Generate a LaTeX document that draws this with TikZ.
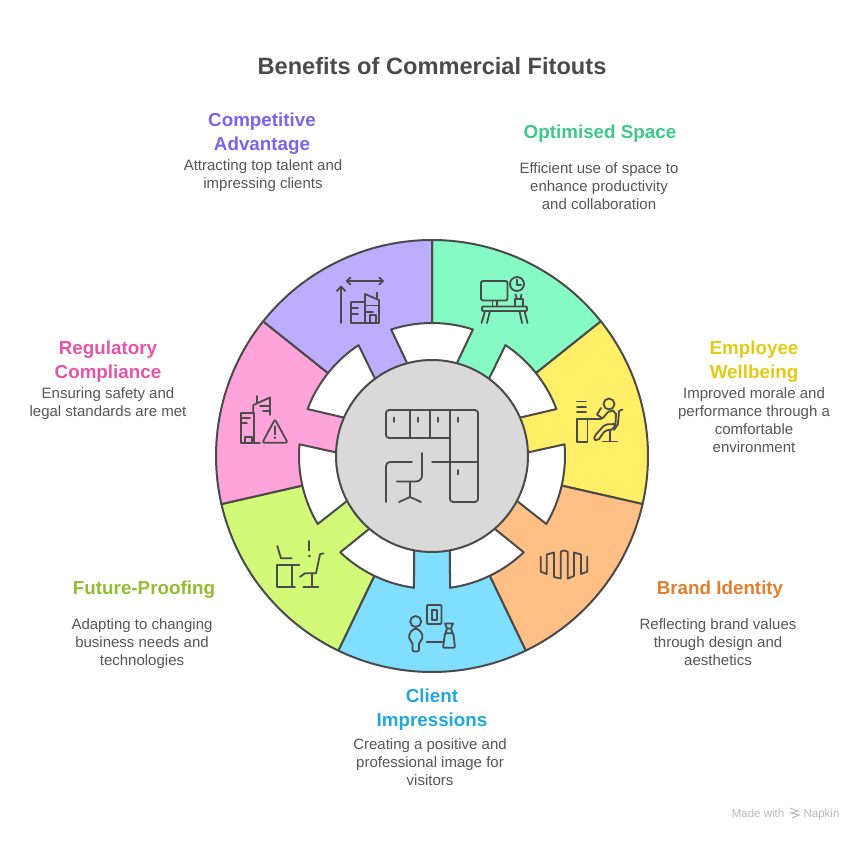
\documentclass[tikz,border=0pt]{standalone}
\usepackage{fontspec}
\setmainfont{Liberation Sans}
\usetikzlibrary{positioning}

\definecolor{inkline}{HTML}{4A4A4A}
\definecolor{bodytext}{HTML}{555555}
\definecolor{hubgray}{HTML}{D9D9D9}
\definecolor{segA}{HTML}{85FAC4}
\definecolor{segB}{HTML}{FFEE66}
\definecolor{segC}{HTML}{FFBF85}
\definecolor{segD}{HTML}{80DFFF}
\definecolor{segE}{HTML}{D2FA78}
\definecolor{segF}{HTML}{FFA3DB}
\definecolor{segG}{HTML}{BDADFF}
\definecolor{headA}{HTML}{3CC98A}
\definecolor{headB}{HTML}{E3CB14}
\definecolor{headC}{HTML}{E07F2D}
\definecolor{headD}{HTML}{1EA8DC}
\definecolor{headE}{HTML}{8FBF2F}
\definecolor{headF}{HTML}{E455A9}
\definecolor{headG}{HTML}{7C62F0}

\begin{document}
\begin{tikzpicture}[x=1pt,y=-1pt]
   \tikzstyle{ring}=[draw=inkline,line width=2pt,line join=round]
   \tikzstyle{icon}=[draw=inkline,line width=1.8pt,line join=round,line cap=round]
   \tikzstyle{head}=[font=\fontsize{18.8}{24}\selectfont\bfseries,align=center,inner sep=0pt]
   \tikzstyle{desc}=[font=\fontsize{15}{18}\selectfont,text=bodytext,align=center,inner sep=0pt]
   \tikzstyle{credit}=[font=\fontsize{11.5}{13}\selectfont,text=black!28,inner sep=0pt,anchor=base]

   \useasboundingbox (0,0) rectangle (864,840);

   % ring
   \begin{scope}[shift={(432,456)}]
      \foreach \col [count=\i from 0] in {segA,segB,segC,segD,segE,segF,segG} {
         \pgfmathsetmacro{\angA}{90-\i*360/7}
         \pgfmathsetmacro{\angB}{90-(\i+1)*360/7}
         \draw[ring,fill=\col] (0,0) -- (\angA:216pt)
            arc[start angle=\angA,end angle=\angB,radius=216pt] -- cycle;
      }
      \foreach \i in {0,...,6} {
         \pgfmathsetmacro{\angM}{90-\i*360/7}
         \draw[ring,fill=white] (\angM+15:96pt) -- (\angM+17.9:133pt)
            arc[start angle=\angM+17.9,end angle=\angM-17.9,radius=133pt]
            -- (\angM-15:96pt) -- cycle;
      }
   \end{scope}
   \node[circle,ring,fill=hubgray,minimum size=192pt,inner sep=0pt] (hub) at (432,456) {};

   % hub icon
   \draw[icon,rounded corners=3pt] (450,438) -- (386,438) -- (386,410) -- (478,410)
      -- (478,502) -- (450,502) -- (450,410);
   \draw[icon] (410,410) -- (410,438) (430,410) -- (430,438) (432,462) -- (478,462);
   \draw[icon] (394,417.5) -- (394,422) (418,417.5) -- (418,422) (438,417.5) -- (438,422)
      (458,417.5) -- (458,422) (458,470) -- (458,474.5);
   \draw[icon,rounded corners=4pt] (386,502) -- (386,462) -- (412,462);
   \draw[icon,rounded corners=6pt] (422,453) -- (422,481.5) -- (397,481.5);
   \draw[icon] (410,482) -- (410,497) (399,502) -- (410,497) -- (421,502);

   % optimised space icon
   \draw[icon,rounded corners=1.5pt] (481,281) rectangle (507.5,300.5);
   \draw[icon] (492.5,301) -- (492.5,306) (497,301) -- (497,306);
   \draw[icon,rounded corners=1pt] (482,306.5) rectangle (527,311);
   \draw[icon] (485,311) -- (481.5,323) (490,311) -- (487,323) (519.5,311) -- (522,323) (524.5,311) -- (527.5,323);
   \draw[icon] (517,284) circle (7pt);
   \draw[icon] (517,279.5) -- (517,285) -- (521,285);
   \draw[icon] (515,299) rectangle (523,306.5);
   \draw[icon] (517,299) -- (515.5,294.5) (520.5,299) -- (521.5,294.5);

   % wellbeing icon
   \draw[icon] (577,401.5) -- (586,401.5) (577,406.7) -- (586,406.7) (577,412) -- (586,412);
   \draw[icon] (601,419) -- (577,419) -- (577,442) -- (587.5,442) -- (587.5,419);
   \draw[icon] (609,404) circle (5.5pt);
   \draw[icon] (601,408) -- (597,414.5) -- (602.5,418.5) -- (608,412) -- (613,410.5) -- (616,414) -- (615.5,424);
   \draw[icon,rounded corners=2pt] (615.5,424) -- (605,424.5) -- (594.5,436) -- (594,440) -- (598,440.5) -- (605,430.5) -- (613,429.5) -- (615.5,424);
   \draw[icon] (622.5,409.5) -- (619,411) -- (618,424) -- (614,430);
   \draw[icon] (610,430) -- (610,441.5) (603,441.5) -- (617,441.5);

   % brand identity icon
   \draw[icon] (540.7,556.7) -- (540.7,571.7) -- (546.7,574) -- (546.7,554.5) -- (554,552.5) -- (554,577) -- (560.7,578.5)
      -- (560.7,551.7) .. controls (564,550) and (565,550) .. (567.7,551.7) -- (567.7,578.5) -- (574,576)
      -- (574,552.5) -- (581,554.5) -- (581,574) -- (587.3,571.7) -- (587.3,556.7);

   % client impressions icon
   \draw[icon,rounded corners=1pt] (427,605) rectangle (441.5,624);
   \draw[icon] (431.7,610) rectangle (436.7,620);
   \draw[icon] (415.7,621.5) circle (5.5pt);
   \draw[icon,rounded corners=2pt] (412.5,651.5) -- (412.5,641.5) -- (409.3,640.5) -- (409.3,633) -- (415.7,627.7)
      -- (422.3,633) -- (422.3,640.5) -- (419,641.5) -- (419,651.5) -- cycle;
   \draw[icon] (426.7,641.7) -- (443.3,641.7);
   \draw[icon,rounded corners=1pt] (445,633.3) -- (453.3,633.3) -- (455,647.7) -- (443,647.7) -- cycle;
   \draw[icon] (445,623.5) -- (453,623.5) -- (451,628.5) -- (447,628.5) -- cycle;
   \draw[icon] (447,628.5) -- (445.5,633) (451,628.5) -- (452.5,633);

   % future proofing icon
   \draw[icon] (277.3,546) -- (281,558.3) -- (291.7,558.3);
   \draw[icon] (309.3,541) -- (309.3,550.5);
   \fill[inkline] (309.3,556) circle (1.5pt);
   \draw[icon] (276.7,565) -- (299.3,565) (277.3,565) -- (277.3,586.7) -- (295,586.7) (291.7,565) -- (291.7,586.7);
   \draw[icon] (323.3,553.3) -- (320,554.3) -- (316,573.3) -- (305,573.3) -- (300,576.7);
   \draw[icon] (311.7,573.3) -- (311.7,586.7) (303.3,586.7) -- (318.3,586.7);

   % regulatory icon
   \draw[icon] (254.3,443) -- (241,443) -- (241,412.7) -- (254.3,412.7) -- (254.3,443) -- (260,443);
   \draw[icon] (241,418.3) -- (250,418.3) (241,423.3) -- (247,423.3);
   \draw[icon] (245,443) -- (245,436.7) -- (251.7,436.7) -- (251.7,443);
   \draw[icon] (253.3,412) -- (253.3,405) -- (270,397.5) -- (270,415);
   \draw[icon] (256.7,396) -- (256.7,403) (260,406) -- (270,406) (263,410.7) -- (270,410.7);
   \draw[icon,rounded corners=2pt] (275,419.3) -- (287.7,442.7) -- (262.3,442.7) -- cycle;
   \draw[icon] (275,426.5) -- (275,434.5);
   \fill[inkline] (275,437.7) circle (1.3pt);

   % competitive icon
   \draw[icon] (346.7,281) -- (383,281) (350.5,277.5) -- (346.7,281) -- (350.5,284.5) (379.2,277.5) -- (383,281) -- (379.2,284.5);
   \draw[icon] (341,323) -- (341,286.5) (336.8,291) -- (341,286.5) -- (345.2,291);
   \draw[icon] (365,323) -- (351,323) -- (351,302) -- (365,302) -- (365,294) -- (379,300) -- (379,323) -- (365,323) -- (365,302);
   \draw[icon] (377,292.5) -- (377,299) (351,308) -- (358,308) (351,314) -- (358,314) (365,305.5) -- (378,305.5) (365,312) -- (373,312);
   \draw[icon] (370,323) -- (370,315) -- (376,315) -- (376,323);

   % labels
   \node[font=\fontsize{23.6}{30}\selectfont\bfseries,text=inkline,inner sep=0pt] (title) at (432,66) {Benefits of Commercial Fitouts};

   \node[head,text=headA] (headA) at (600,134) {Optimised Space};
   \node[desc] (descA) at (599,186) {Efficient use of space to\\enhance productivity\\and collaboration};

   \node[head,text=headB] (headB) at (754,362) {Employee\\Wellbeing};
   \node[desc] (descB) at (754,420) {Improved morale and\\performance through a\\comfortable\\environment};

   \node[head,text=headC] (headC) at (720,590) {Brand Identity};
   \node[desc] (descC) at (718,642) {Reflecting brand values\\through design and\\aesthetics};

   \node[head,text=headD] (headD) at (432,710) {Client\\Impressions};
   \node[desc] (descD) at (430,762) {Creating a positive and\\professional image for\\visitors};

   \node[head,text=headE] (headE) at (144,590) {Future-Proofing};
   \node[desc] (descE) at (142,644) {Adapting to changing\\business needs and\\technologies};

   \node[head,text=headF] (headF) at (108,362) {Regulatory\\Compliance};
   \node[desc] (descF) at (108,404) {Ensuring safety and\\legal standards are met};

   \node[head,text=headG] (headG) at (262,134) {Competitive\\Advantage};
   \node[desc] (descG) at (263,176) {Attracting top talent and\\impressing clients};

   \node[credit] (madewith) at (758,817) {Made with};
   \node[credit] (napkin) at (821.5,817) {Napkin};
   \draw[black!28,line width=1pt] (790,808) -- (798,811) -- (791,813) -- (799,815) -- (792,818);
\end{tikzpicture}
\end{document}
